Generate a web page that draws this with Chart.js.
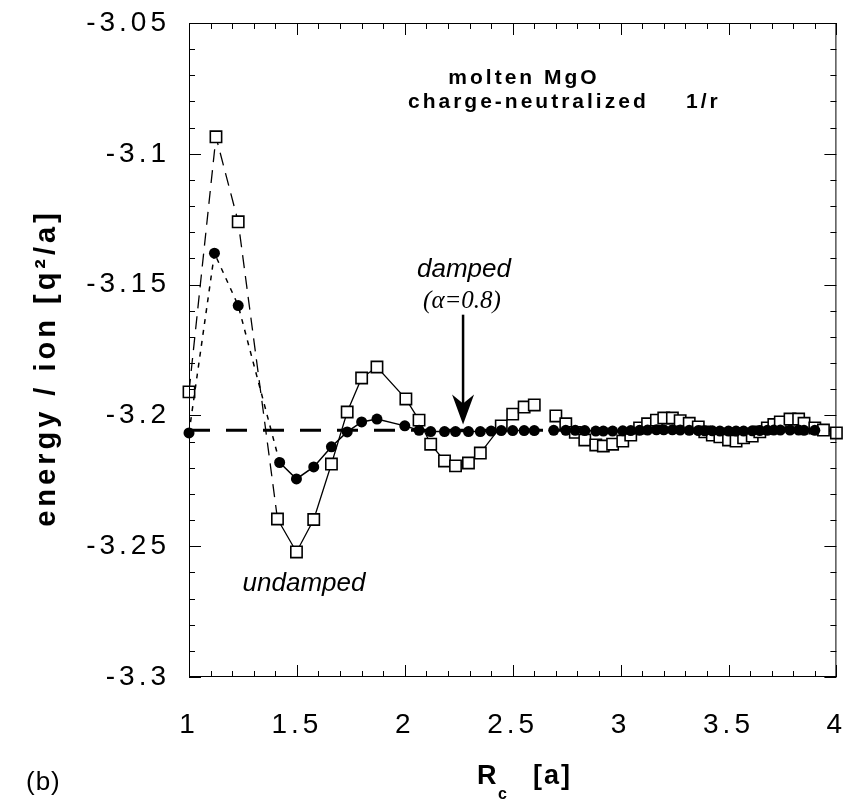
<!DOCTYPE html>
<html>
<head>
<meta charset="utf-8">
<script src="https://cdn.jsdelivr.net/npm/chart.js@4.4.0/dist/chart.umd.min.js"></script>
<style>
  html, body { margin: 0; padding: 0; background: #fff; }
  #wrap { width: 846px; height: 801px; }
</style>
</head>
<body>
<div id="wrap"><canvas id="myChart" width="846" height="801"></canvas></div>
<script>
// molten MgO, charge-neutralized 1/r : energy per ion vs cutoff Rc

const rcUndamped = [1.0, 1.125, 1.228, 1.41, 1.498, 1.578, 1.66, 1.733, 1.80, 1.871,
  2.005, 2.066, 2.12, 2.184, 2.235, 2.295, 2.35, 2.447, 2.50, 2.553, 2.60,
  2.70, 2.746, 2.79, 2.834, 2.885, 2.92, 2.963, 3.01, 3.047, 3.088, 3.125, 3.166,
  3.20, 3.24, 3.276, 3.318, 3.36, 3.39, 3.425, 3.46, 3.50, 3.535, 3.57, 3.61,
  3.645, 3.68, 3.71, 3.74, 3.785, 3.825, 3.85, 3.90, 3.94, 4.0];
const eUndamped = [-3.191, -3.0935, -3.126, -3.2396, -3.2522, -3.2398, -3.2186, -3.1987, -3.1857, -3.1815,
  -3.1937, -3.2018, -3.211, -3.2174, -3.2193, -3.2182, -3.2144, -3.204, -3.1995, -3.1968, -3.196,
  -3.2002, -3.2032, -3.2065, -3.2094, -3.2113, -3.2117, -3.211, -3.2098, -3.2075, -3.2048, -3.2032, -3.2018,
  -3.201, -3.201, -3.202, -3.203, -3.2044, -3.2063, -3.2075, -3.2082, -3.2094, -3.2098, -3.2086, -3.2079,
  -3.2063, -3.2048, -3.2035, -3.2025, -3.2014, -3.2014, -3.203, -3.2048, -3.2056, -3.2067];

const rcDamped = [1.0, 1.118, 1.228, 1.42, 1.498, 1.578, 1.66, 1.733, 1.80, 1.871,
  2.0, 2.066, 2.12, 2.184, 2.235, 2.295, 2.35, 2.40, 2.447, 2.50, 2.553, 2.60,
  2.69, 2.746, 2.79, 2.834, 2.885, 2.92, 2.963, 3.01, 3.047, 3.088, 3.125, 3.166,
  3.20, 3.24, 3.276, 3.318, 3.36, 3.39, 3.425, 3.46, 3.50, 3.535, 3.57, 3.61,
  3.645, 3.68, 3.71, 3.74, 3.785, 3.825, 3.85, 3.90];
const eDamped = [-3.2067, -3.138, -3.158, -3.218, -3.2243, -3.2197, -3.212, -3.2063, -3.2025, -3.2014,
  -3.204, -3.2057, -3.2062, -3.2062, -3.2062, -3.2062, -3.2062, -3.206, -3.2058, -3.2058, -3.2058, -3.2058,
  -3.2057, -3.2057, -3.2057, -3.2058, -3.206, -3.206, -3.206, -3.2059, -3.2058, -3.2057, -3.2056, -3.2055,
  -3.2055, -3.2055, -3.2056, -3.2057, -3.2058, -3.2059, -3.2059, -3.206, -3.206, -3.206, -3.206, -3.2059,
  -3.2058, -3.2057, -3.2056, -3.2056, -3.2056, -3.2056, -3.2057, -3.2057];

const ewaldEnergy = -3.2057;
const xTicks = [1, 1.5, 2, 2.5, 3, 3.5, 4];
const yTicks = [-3.05, -3.1, -3.15, -3.2, -3.25, -3.3];

const toPoints = (xs, ys) => xs.map((x, i) => ({ x: x, y: ys[i] }));

// first few shells joined by dashes, gap near 2.65 left open
const segStyle = (dash) => ({
  borderDash: ctx => ctx.p0.parsed.x < 1.3 ? dash : [],
  borderColor: ctx => (ctx.p0.parsed.x > 2.55 && ctx.p1.parsed.x - ctx.p0.parsed.x > 0.08) ? 'rgba(0,0,0,0)' : '#000'
});

const data = {
  datasets: [
    {
      label: 'damped (alpha=0.8)',
      data: toPoints(rcDamped, eDamped),
      showLine: true,
      borderColor: '#000',
      borderWidth: 1.5,
      pointStyle: 'circle',
      pointRadius: 5.5,
      pointBackgroundColor: '#000',
      pointBorderColor: '#000',
      pointBorderWidth: 0,
      segment: segStyle([5, 6]),
      order: 1,
      clip: 12
    },
    {
      label: 'undamped',
      data: toPoints(rcUndamped, eUndamped),
      showLine: true,
      borderColor: '#000',
      borderWidth: 1.3,
      pointStyle: 'rect',
      pointRadius: 8,
      pointBackgroundColor: '#fff',
      pointBorderColor: '#000',
      pointBorderWidth: 1.6,
      segment: segStyle([13, 8]),
      order: 2,
      clip: 12
    },
    {
      label: 'Ewald',
      data: [{ x: 1, y: ewaldEnergy }, { x: 4, y: ewaldEnergy }],
      showLine: true,
      borderColor: '#000',
      borderWidth: 3,
      borderDash: [21, 16],
      pointRadius: 0,
      order: 3
    }
  ]
};

/**
 * frame, inward ticks, labels and arrow
 */
const decor = {
  id: 'decor',
  beforeDraw(chart) {
    chart.ctx.letterSpacing = '4px';
  },
  afterDraw(chart) {
    const ctx = chart.ctx;
    const a = chart.chartArea;
    const sx = chart.scales.x, sy = chart.scales.y;
    ctx.save();
    ctx.strokeStyle = '#000';
    ctx.lineWidth = 1;
    ctx.strokeRect(a.left + 0.5, a.top + 0.5, a.right - a.left - 1, a.bottom - a.top - 1);

    ctx.beginPath();
    for (let i = 10; i <= 40; i++) {
      const px = Math.round(sx.getPixelForValue(i / 10)) + 0.5;
      const len = i % 5 === 0 ? 12 : 6;
      ctx.moveTo(px, a.bottom); ctx.lineTo(px, a.bottom - len);
      ctx.moveTo(px, a.top); ctx.lineTo(px, a.top + len);
    }
    for (let i = 305; i <= 330; i++) {
      const py = Math.round(sy.getPixelForValue(-i / 100)) + 0.5;
      const len = i % 5 === 0 ? 12 : 6;
      ctx.moveTo(a.left, py); ctx.lineTo(a.left + len, py);
      ctx.moveTo(a.right, py); ctx.lineTo(a.right - len, py);
    }
    ctx.stroke();

    // arrow to the damped curve
    const ax = sx.getPixelForValue(2.27);
    const tip = sy.getPixelForValue(-3.2035);
    const top = sy.getPixelForValue(-3.1615);
    ctx.lineWidth = 2.5;
    ctx.beginPath();
    ctx.moveTo(ax, top); ctx.lineTo(ax, tip - 15);
    ctx.stroke();
    ctx.beginPath();
    ctx.moveTo(ax, tip);
    ctx.lineTo(ax - 11, tip - 30);
    ctx.lineTo(ax, tip - 21);
    ctx.lineTo(ax + 11, tip - 30);
    ctx.closePath();
    ctx.fill();

    ctx.fillStyle = '#000';
    ctx.textBaseline = 'alphabetic';

    ctx.letterSpacing = '3px';
    ctx.font = 'bold 21px "Liberation Sans", Arial, sans-serif';
    ctx.textAlign = 'center';
    ctx.fillText('molten MgO', 524, 84);
    ctx.textAlign = 'left';
    ctx.fillText('charge-neutralized', 408, 108);
    ctx.fillText('1/r', 686, 108);

    ctx.letterSpacing = '0px';
    ctx.textAlign = 'center';
    ctx.font = 'italic 26px "Liberation Sans", Arial, sans-serif';
    ctx.fillText('damped', 464, 277);
    ctx.fillText('undamped', 304, 591);
    ctx.font = 'italic 25px "Liberation Serif", "Times New Roman", serif';
    ctx.fillText('(\u03b1=0.8)', 462, 308);

    // axis titles
    ctx.letterSpacing = '4px';
    ctx.font = 'bold 29px "Liberation Sans", Arial, sans-serif';
    ctx.save();
    ctx.translate(55, 368);
    ctx.rotate(-Math.PI / 2);
    ctx.textAlign = 'center';
    ctx.fillText('energy / ion [q\u00b2/a]', 0, 0);
    ctx.restore();

    ctx.letterSpacing = '2px';
    ctx.textAlign = 'left';
    ctx.font = 'bold 27px "Liberation Sans", Arial, sans-serif';
    ctx.fillText('R', 477, 784);
    ctx.font = 'bold 16px "Liberation Sans", Arial, sans-serif';
    ctx.fillText('c', 498, 799);
    ctx.font = 'bold 27px "Liberation Sans", Arial, sans-serif';
    ctx.fillText('[a]', 533, 784);

    ctx.letterSpacing = '1px';
    ctx.font = '26px "Liberation Sans", Arial, sans-serif';
    ctx.fillText('(b)', 26, 790);
    ctx.restore();
  }
};

const tickFont = { family: '"Liberation Sans", Arial, sans-serif', size: 28 };

const config = {
  type: 'scatter',
  data: data,
  options: {
    responsive: false,
    animation: false,
    layout: { padding: { top: 23, right: 6, left: 0, bottom: 0 } },
    plugins: { legend: { display: false }, tooltip: { enabled: false } },
    scales: {
      x: {
        type: 'linear',
        min: 1, max: 4,
        grid: { display: false },
        border: { display: false },
        afterBuildTicks: s => { s.ticks = xTicks.map(v => ({ value: v })) },
        afterFit: s => { s.height = 801 - 677; s.paddingLeft = 0; s.paddingRight = 0 },
        ticks: { color: '#000', font: tickFont, padding: 23, maxRotation: 0, callback: v => String(v) }
      },
      y: {
        type: 'linear',
        min: -3.3, max: -3.05,
        grid: { display: false },
        border: { display: false },
        afterBuildTicks: s => { s.ticks = yTicks.map(v => ({ value: v })) },
        afterFit: s => { s.width = 189; s.paddingTop = 0; s.paddingBottom = 0 },
        ticks: { color: '#000', font: tickFont, padding: 11, callback: v => String(v) }
      }
    }
  },
  plugins: [decor]
};

const myChart = new Chart(document.getElementById('myChart'), config);
</script>
</body>
</html>
